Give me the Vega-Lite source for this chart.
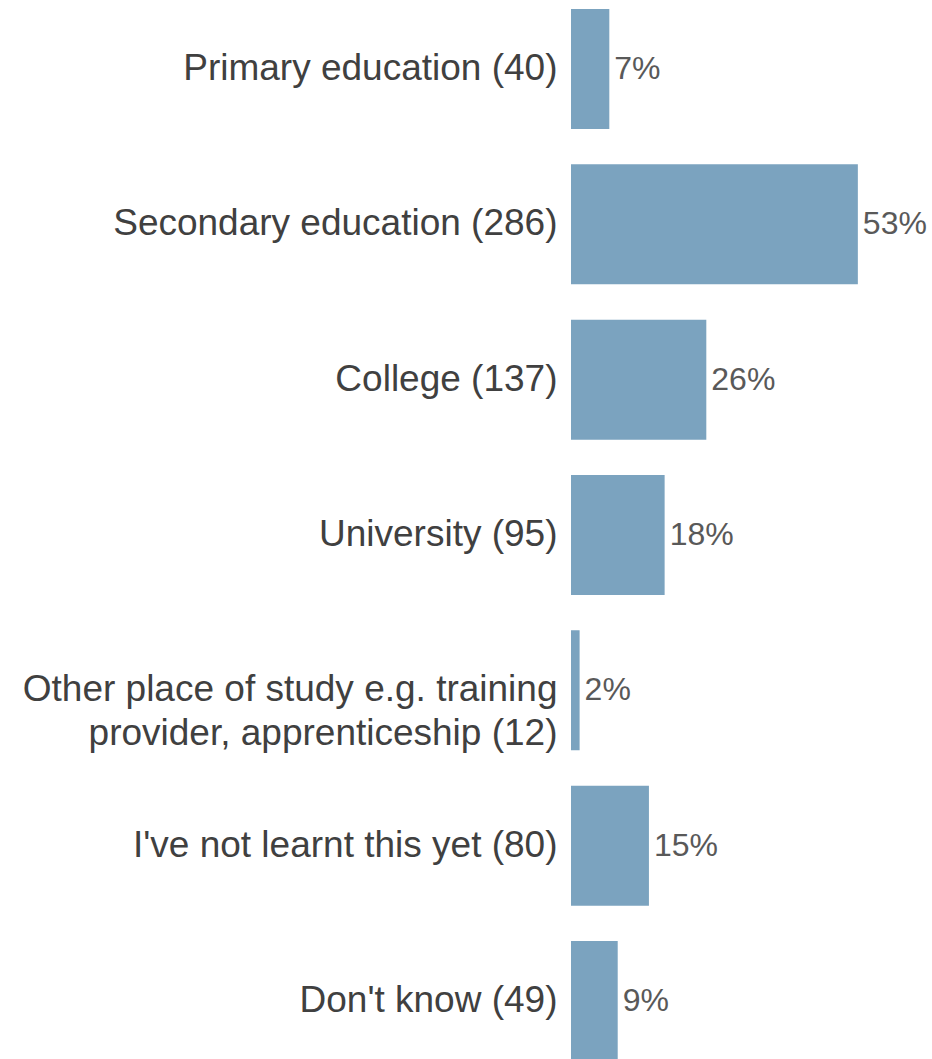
{
  "$schema": "https://vega.github.io/schema/vega-lite/v6.json",
  "autosize": "none",
  "width": 361,
  "height": 1052,
  "padding": {"left": 571, "top": 9, "right": 0, "bottom": 0},
  "background": "white",
  "config": {"view": {"stroke": null}, "font": "Liberation Sans"},
  "data": {
    "values": [
      {"cat": "Primary education (40)", "value": 7.08, "label": "7%"},
      {"cat": "Secondary education (286)", "value": 53.0, "label": "53%"},
      {"cat": "College (137)", "value": 25.0, "label": "26%"},
      {"cat": "University (95)", "value": 17.3, "label": "18%"},
      {"cat": "Other place of study e.g. training|provider, apprenticeship (12)", "value": 1.59, "label": "2%"},
      {"cat": "I've not learnt this yet (80)", "value": 14.4, "label": "15%"},
      {"cat": "Don't know (49)", "value": 8.63, "label": "9%"}
    ]
  },
  "encoding": {
    "y": {
      "field": "cat", "type": "nominal", "sort": null,
      "scale": {"paddingInner": 0.2275, "paddingOuter": 0},
      "axis": {
        "title": null, "domain": false, "ticks": false, "labelPadding": 14,
        "labelFontSize": 37, "labelColor": "#404040", "labelLimit": 600,
        "labelExpr": "split(datum.value, '|')", "labelLineHeight": 44
      }
    }
  },
  "layer": [
    {
      "mark": {"type": "bar", "color": "#7BA3BF"},
      "encoding": {
        "x": {"field": "value", "type": "quantitative", "scale": {"domain": [0, 66.7], "nice": false, "zero": true}, "axis": null}
      }
    },
    {
      "mark": {"type": "text", "align": "left", "baseline": "middle", "dx": 5, "fontSize": 32, "color": "#595959"},
      "encoding": {
        "x": {"field": "value", "type": "quantitative"},
        "text": {"field": "label"}
      }
    }
  ]
}
